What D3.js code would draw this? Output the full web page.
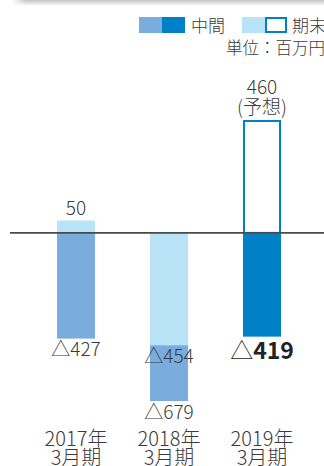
<!DOCTYPE html>
<html>
<head>
<meta charset="utf-8">
<script src="https://cdn.jsdelivr.net/npm/d3@7/dist/d3.min.js"></script>
<style>
  html, body { margin: 0; padding: 0; background: #fff; }
  svg { display: block; font-family: "Noto Sans CJK JP Light", "Noto Sans CJK JP", "Noto Sans", sans-serif; }
</style>
</head>
<body>
<svg id="chart" width="324" height="466"></svg>
<script>
// data
const years = ["2017年", "2018年", "2019年"];
const periods = ["3月期", "3月期", "3月期"];
const interim = [-427, -679, -419];      // 中間
const annual = [50, -454, 460];          // 期末
const forecast = [false, false, true];   // 期末 予想
const current = [false, false, true];    // 当期 (濃い色)

const colMid = "#7aadde", colDark = "#0080c7", colLight = "#b9e4f8", textCol = "#3b3b3b";

var svg = d3.select("#chart");
var data = years.map(function(y, i) {
    return {key: y + periods[i], year: y, period: periods[i], interim: interim[i], annual: annual[i], forecast: forecast[i], current: current[i]};
});

var x = d3.scaleBand().domain(data.map(function(d) { return d.key; }))
    .range([29.5, 308.5]).paddingInner(0.591).paddingOuter(0.2955);
var y = d3.scaleLinear().domain([-679, 460]).range([401, 119]);

function fmt(v) { return v < 0 ? "△" + Math.abs(v) : String(v); }

// card shadow at top
var defs = svg.append("defs");
var grad = defs.append("linearGradient").attr("id", "shadow").attr("x1", 0).attr("y1", 0).attr("x2", 0).attr("y2", 1);
grad.append("stop").attr("offset", "0%").attr("stop-color", "#c4c4c4");
grad.append("stop").attr("offset", "100%").attr("stop-color", "#fff");
var gradL = defs.append("linearGradient").attr("id", "shadowL").attr("x1", 0).attr("y1", 0).attr("x2", 1).attr("y2", 0);
gradL.append("stop").attr("offset", "0%").attr("stop-color", "#fff").attr("stop-opacity", 1);
gradL.append("stop").attr("offset", "100%").attr("stop-color", "#fff").attr("stop-opacity", 0);
svg.append("rect").attr("x", 12).attr("y", 0).attr("width", 312).attr("height", 6).attr("fill", "url(#shadow)");
svg.append("rect").attr("x", 12).attr("y", 0).attr("width", 14).attr("height", 6).attr("fill", "url(#shadowL)");

// legend
var lg = svg.append("g");
lg.append("rect").attr("x", 139).attr("y", 17).attr("width", 23).attr("height", 16).attr("fill", colMid);
lg.append("rect").attr("x", 162).attr("y", 17).attr("width", 23).attr("height", 16).attr("fill", colDark);
lg.append("text").attr("x", 191).attr("y", 31.5).attr("font-size", "17px").attr("fill", textCol).text("中間");
lg.append("rect").attr("x", 242).attr("y", 17).attr("width", 23).attr("height", 16).attr("fill", colLight);
lg.append("rect").attr("x", 266).attr("y", 18).attr("width", 20).attr("height", 14).attr("fill", "#fff")
    .attr("stroke", colDark).attr("stroke-width", 2);
lg.append("text").attr("x", 292).attr("y", 31.5).attr("font-size", "17px").attr("fill", textCol).text("期末");
svg.append("text").attr("x", 325).attr("y", 54).attr("text-anchor", "end").attr("font-size", "16.5px")
    .attr("fill", textCol).text("単位：百万円");

var g = svg.append("g");

// 中間 bars
g.selectAll(".interim").data(data).enter().append("rect")
    .attr("class", "interim")
    .attr("x", function(d) { return x(d.key); })
    .attr("y", function(d) { return y(Math.max(0, d.interim)); })
    .attr("width", x.bandwidth())
    .attr("height", function(d) { return Math.abs(y(d.interim) - y(0)); })
    .attr("fill", function(d) { return d.current ? colDark : colMid; });

// 期末 bars
g.selectAll(".annual").data(data).enter().append("rect")
    .attr("class", "annual")
    .attr("x", function(d) { return x(d.key) + (d.forecast ? 1 : 0); })
    .attr("y", function(d) { return y(Math.max(0, d.annual)) + (d.forecast ? 2 : 0); })
    .attr("width", function(d) { return x.bandwidth() - (d.forecast ? 2 : 0); })
    .attr("height", function(d) { return Math.abs(y(d.annual) - y(0)) - (d.forecast ? 2 : 0); })
    .attr("fill", function(d) { return d.forecast ? "#fff" : colLight; })
    .attr("stroke", function(d) { return d.forecast ? colDark : "none"; })
    .attr("stroke-width", 2);

// zero line
svg.append("line").attr("x1", 10).attr("x2", 324).attr("y1", y(0)).attr("y2", y(0))
    .attr("stroke", "#4a4a4a").attr("stroke-width", 1.8);

// value labels
var labels = [];
data.forEach(function(d) {
    labels.push({key: d.key, v: d.interim, bold: d.current, note: false});
    labels.push({key: d.key, v: d.annual, bold: false, note: d.forecast});
});
var val = g.selectAll(".val").data(labels).enter().append("text")
    .attr("class", "val")
    .attr("x", function(d) { return x(d.key) + x.bandwidth() / 2; })
    .attr("y", function(d) {
        if (d.v >= 0) return y(d.v) - (d.note ? 25 : 5.5);
        return y(d.v) + (d.bold ? 22 : 17.5);
    })
    .attr("text-anchor", "middle")
    .attr("font-size", function(d) { return d.bold ? "23px" : "19px"; })
    .attr("fill", function(d) { return d.bold ? "#222" : textCol; });
// △ stays thin, digits bold for the current period
val.append("tspan").text(function(d) { return d.v < 0 ? "△" : ""; });
val.append("tspan")
    .attr("font-family", function(d) { return d.bold ? "'Noto Sans CJK JP', 'Noto Sans', sans-serif" : null; })
    .attr("font-weight", function(d) { return d.bold ? 700 : null; })
    .text(function(d) { return String(Math.abs(d.v)); });

g.selectAll(".note").data(labels.filter(function(d) { return d.note; })).enter().append("text")
    .attr("class", "note")
    .attr("x", function(d) { return x(d.key) + x.bandwidth() / 2; })
    .attr("y", function(d) { return y(d.v) - 5; })
    .attr("text-anchor", "middle").attr("font-size", "19px")
    .attr("fill", textCol).text("(予想)");

// category labels
var cat = g.selectAll(".cat").data(data).enter().append("text")
    .attr("class", "cat")
    .attr("text-anchor", "middle").attr("font-size", "20px").attr("fill", textCol);
cat.append("tspan").attr("x", function(d) { return x(d.key) + x.bandwidth() / 2; }).attr("y", 446)
    .text(function(d) { return d.year; });
cat.append("tspan").attr("x", function(d) { return x(d.key) + x.bandwidth() / 2; }).attr("y", 465)
    .text(function(d) { return d.period; });
</script>
</body>
</html>
